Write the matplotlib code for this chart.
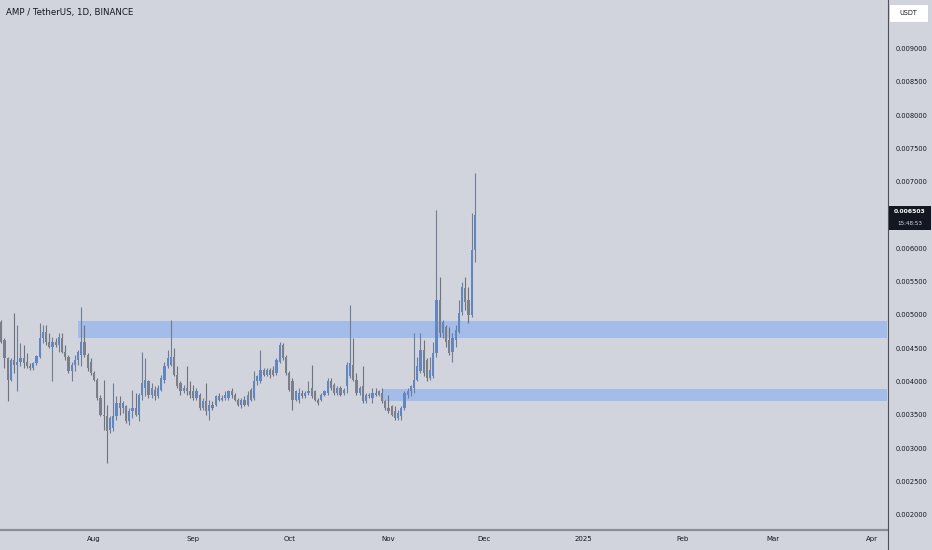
import numpy as np
import pandas as pd
import matplotlib
matplotlib.use("Agg")
import matplotlib.pyplot as plt
import matplotlib.dates as mdates
from matplotlib.patches import Rectangle
from matplotlib.lines import Line2D

# ── Data (daily OHLC, values in micro-USDT) ───────────────────────────────────
dates = pd.date_range("2024-07-02", periods=150, freq="D")
opens_u = [
    4915, 4900, 4625, 4350, 4025, 4325, 4250, 4300, 4350, 4300,
    4225, 4200, 4275, 4375, 4650, 4750, 4600, 4525, 4600, 4550,
    4650, 4450, 4375, 4150, 4250, 4325, 4400, 4600, 4400, 4300,
    4125, 4025, 3750, 3500, 3475, 3275, 3300, 3475, 3675, 3600,
    3625, 3400, 3550, 3600, 3500, 3800, 3900, 4000, 3800, 3875,
    3775, 3875, 4025, 4225, 4250, 4375, 4100, 3975, 3850, 3900,
    3850, 3850, 3750, 3800, 3600, 3700, 3550, 3650, 3650, 3775,
    3725, 3750, 3750, 3850, 3800, 3725, 3650, 3725, 3650, 3875,
    3750, 4000, 4000, 4175, 4100, 4175, 4175, 4125, 4300, 4550,
    4375, 4125, 4000, 3725, 3725, 3825, 3775, 3825, 3900, 3850,
    3725, 3725, 3800, 3825, 4000, 3950, 3825, 3900, 3825, 3925,
    4075, 4250, 4025, 3825, 3925, 3700, 3800, 3750, 3825, 3800,
    3825, 3700, 3600, 3625, 3550, 3450, 3475, 3600, 3800, 3850,
    3900, 4025, 4150, 4475, 4325, 4050, 4075, 4425, 5225, 4725,
    4825, 4625, 4450, 4625, 4750, 5050, 5400, 5225, 5000, 5975,
]
highs_u = [
    4935, 4925, 4650, 4375, 4350, 5035, 4850, 4575, 4550, 4425,
    4275, 4300, 4400, 4875, 4850, 4850, 4725, 4675, 4650, 4725,
    4725, 4550, 4400, 4300, 4400, 4475, 5125, 4850, 4425, 4350,
    4150, 4050, 3800, 4025, 3650, 3475, 3975, 3775, 3775, 3700,
    3650, 3600, 3875, 3825, 3825, 4450, 4350, 4025, 3975, 3925,
    3950, 4100, 4300, 4475, 4925, 4500, 4225, 4000, 3950, 4225,
    4000, 3950, 3900, 3825, 3750, 3975, 3725, 3700, 3800, 3825,
    3800, 3850, 3875, 3900, 3825, 3750, 3750, 3775, 3850, 3900,
    4150, 4100, 4475, 4200, 4200, 4200, 4225, 4350, 4600, 4575,
    4400, 4150, 4050, 3875, 3900, 3875, 3850, 4000, 4250, 3875,
    3750, 3825, 3875, 4050, 4050, 3975, 3925, 3925, 3900, 4300,
    5150, 4650, 4125, 3925, 4225, 3825, 3825, 3900, 3900, 3875,
    3900, 3725, 3800, 3650, 3625, 3575, 3625, 3850, 3900, 3950,
    4725, 4375, 4725, 4625, 4350, 4375, 4600, 6575, 5575, 4925,
    4850, 4825, 4725, 4850, 5225, 5500, 5575, 5425, 6525, 7125,
]
lows_u = [
    4825, 4575, 4200, 3700, 4000, 4125, 3850, 4225, 4200, 4200,
    4175, 4175, 4250, 4350, 4575, 4550, 4500, 4000, 4525, 4450,
    4425, 4325, 4125, 4000, 4150, 4250, 4225, 4375, 4150, 4100,
    4000, 3725, 3475, 3275, 2775, 3225, 3250, 3425, 3500, 3525,
    3375, 3350, 3450, 3475, 3400, 3725, 3775, 3750, 3750, 3725,
    3750, 3850, 3975, 4200, 4225, 4075, 3900, 3800, 3825, 3800,
    3750, 3725, 3725, 3575, 3575, 3500, 3425, 3575, 3625, 3700,
    3700, 3725, 3725, 3750, 3700, 3625, 3600, 3625, 3625, 3700,
    3725, 3950, 3975, 4075, 4075, 4050, 4075, 4100, 4275, 4325,
    4100, 3850, 3575, 3700, 3675, 3750, 3750, 3800, 3750, 3700,
    3650, 3700, 3775, 3800, 3875, 3800, 3800, 3775, 3800, 3825,
    4050, 4000, 3800, 3800, 3675, 3675, 3750, 3675, 3775, 3775,
    3675, 3575, 3525, 3475, 3425, 3425, 3425, 3575, 3750, 3775,
    3825, 4000, 4125, 4075, 4000, 4025, 4050, 4375, 4675, 4650,
    4525, 4400, 4300, 4525, 4725, 5000, 5075, 4875, 4975, 5800,
]
closes_u = [
    4865, 4600, 4350, 4025, 4325, 4250, 4300, 4350, 4275, 4225,
    4200, 4275, 4385, 4650, 4750, 4600, 4525, 4600, 4550, 4675,
    4450, 4375, 4150, 4250, 4325, 4450, 4600, 4400, 4200, 4125,
    4025, 3750, 3500, 3475, 3250, 3450, 3475, 3675, 3600, 3675,
    3400, 3550, 3600, 3500, 3800, 3975, 4025, 3800, 3900, 3775,
    3900, 4050, 4225, 4350, 4375, 4100, 3925, 3850, 3900, 3850,
    3800, 3750, 3850, 3600, 3700, 3550, 3650, 3600, 3775, 3725,
    3750, 3800, 3850, 3800, 3725, 3650, 3725, 3650, 3800, 3725,
    4000, 4075, 4175, 4100, 4175, 4100, 4100, 4325, 4550, 4350,
    4125, 3875, 3725, 3850, 3825, 3775, 3825, 3850, 3775, 3725,
    3675, 3800, 3850, 4000, 3900, 3825, 3900, 3800, 3875, 4250,
    4275, 4025, 3825, 3900, 3700, 3800, 3775, 3825, 3800, 3850,
    3700, 3600, 3550, 3500, 3450, 3525, 3600, 3825, 3850, 3925,
    4025, 4225, 4475, 4125, 4050, 4175, 4425, 5225, 4725, 4900,
    4600, 4425, 4650, 4775, 5025, 5425, 5200, 5000, 5975, 6503,
]
PRICE_SCALE = 1e-6

# supply / demand boxes (price bounds in USDT) and their start dates
zone_lows = [0.00466, 0.00370]
zone_highs = [0.00491, 0.00389]
zone_starts = ["2024-07-27", "2024-10-30"]

price_ticks = np.arange(0.002, 0.009001, 0.0005)
month_ticks = ["2024-08-01", "2024-09-01", "2024-10-01", "2024-11-01", "2024-12-01",
               "2025-01-01", "2025-02-01", "2025-03-01", "2025-04-01"]
month_labels = ["Aug", "Sep", "Oct", "Nov", "Dec", "2025", "Feb", "Mar", "Apr"]

title = "AMP / TetherUS, 1D, BINANCE"
currency = "USDT"
countdown = "15:48:53"

# ── Style ─────────────────────────────────────────────────────────────────────
W, H = 932, 550
BG = "#d1d4dc"
UP = "#6286c2"
DOWN = "#7b7f89"
UP_WICK = "#6f7d96"
DOWN_WICK = "#6e727c"
ZONE = "#a4bce8"
TEXT = "#131722"
plt.rcParams["font.family"] = ["DejaVu Sans"]


def fx(px):
    return px / W


def fy(py):
    # pixel measured from the top
    return 1 - py / H


fig = plt.figure(figsize=(W / 100, H / 100), dpi=100, facecolor=BG)
ax = fig.add_axes([0, fy(529), fx(887), 529 / H], facecolor=BG)

o = np.array(opens_u) * PRICE_SCALE
h = np.array(highs_u) * PRICE_SCALE
l = np.array(lows_u) * PRICE_SCALE
c = np.array(closes_u) * PRICE_SCALE
x = mdates.date2num(dates)
up = c >= o

aug1 = mdates.date2num(pd.Timestamp("2024-08-01"))
ax.set_xlim(aug1 - 29.4, aug1 + 247.8)
ax.set_ylim(0.001785, 0.009728)
x_right = ax.get_xlim()[1]

# zones
for lo, hi, start in zip(zone_lows, zone_highs, zone_starts):
    x0 = mdates.date2num(pd.Timestamp(start))
    ax.add_patch(Rectangle((x0, lo), x_right - x0 + 5, hi - lo,
                           facecolor=ZONE, edgecolor="none", zorder=1))

# candles
min_body = 0.000012
for mask, col, wcol in [(up, UP, UP_WICK), (~up, DOWN, DOWN_WICK)]:
    ax.vlines(x[mask], l[mask], h[mask], color=wcol, linewidth=0.8, zorder=2)
    bottom = np.minimum(o[mask], c[mask])
    height = np.maximum(np.abs(c[mask] - o[mask]), min_body)
    ax.bar(x[mask], height, bottom=bottom, width=0.7, color=col,
           linewidth=0, zorder=3)

# axes / ticks
for s in ax.spines.values():
    s.set_visible(False)
ax.yaxis.tick_right()
ax.set_yticks(price_ticks)
ax.set_yticklabels([f"{v:.6f}" for v in price_ticks])
ax.tick_params(axis="y", length=0, pad=6, labelsize=4.8, labelcolor=TEXT)
ax.set_xticks([mdates.date2num(pd.Timestamp(d)) for d in month_ticks])
ax.set_xticklabels(month_labels)
ax.tick_params(axis="x", length=0, pad=5, labelsize=5, labelcolor=TEXT)

# separators
fig.add_artist(Line2D([0, fx(887)], [fy(529.5), fy(529.5)], color="#8a8d96", linewidth=1.6))
fig.add_artist(Line2D([fx(887.5), fx(887.5)], [0, 1], color="#50535e", linewidth=0.8))

# title
fig.text(fx(6), fy(12), title, fontsize=6.2, ha="left", va="center", color=TEXT)

# currency box
fig.add_artist(Rectangle((fx(889), fy(22)), fx(39), 18 / H, transform=fig.transFigure,
                         facecolor="white", edgecolor="#c4c7cf", linewidth=0.5))
fig.text(fx(908.5), fy(13), currency, fontsize=4.7, ha="center", va="center", color=TEXT)

# last price label
fig.canvas.draw()
close_y = H - ax.transData.transform((x[-1], c[-1]))[1]
fig.add_artist(Rectangle((fx(888.5), fy(close_y + 15)), fx(42), 24 / H,
                         transform=fig.transFigure, facecolor="#131722",
                         edgecolor="none", zorder=5))
fig.text(fx(909.5), fy(close_y - 3.5), f"{c[-1]:.6f}", fontsize=4.4, ha="center",
         va="center", color="white", fontweight="bold", zorder=6)
fig.text(fx(909.5), fy(close_y + 8.5), countdown, fontsize=4.1, ha="center",
         va="center", color="#d8dae0", zorder=6)

fig.savefig("out.png", dpi=100, facecolor=BG)
